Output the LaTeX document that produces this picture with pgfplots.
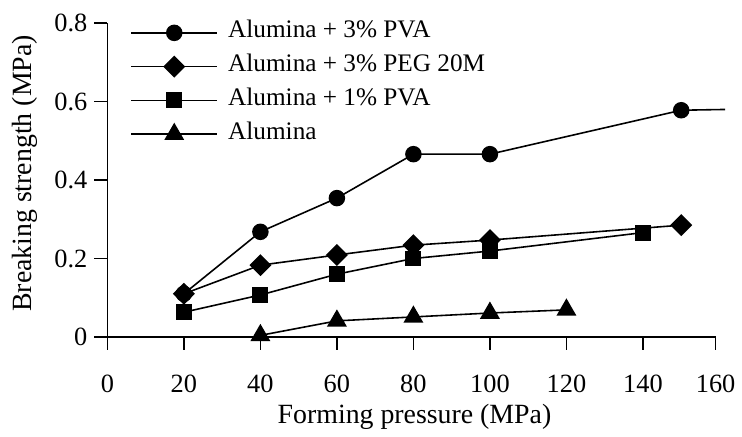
\documentclass[border=0pt]{standalone}
\usepackage{pgfplots}
\pgfplotsset{compat=1.18}
\usepackage{fontspec}
\setmainfont{Liberation Serif}
\newcommand{\tickfont}{\fontsize{13.25}{15}\selectfont}
\newcommand{\legfont}{\fontsize{12.7}{14}\selectfont}
\begin{document}
\begin{tikzpicture}
\begin{axis}[
  scale only axis,
  width=306pt, height=157.85pt,
  xmin=0, xmax=159, ymin=0, ymax=0.8,
  axis x line*=bottom, axis y line*=left,
  axis line style={line width=0.75pt},
  tick align=outside,
  major tick length=6.5pt,
  tick style={line width=0.75pt, black},
  xtick={0,20,40,60,80,100,120,140,159},
  xticklabels={0,20,40,60,80,100,120,140,160},
  ytick={0,0.2,0.4,0.6,0.8},
  yticklabels={0,0.2,0.4,0.6,0.8},
  minor tick num=0,
  /pgf/number format/assume math mode=true,
  every tick label/.append style={font=\tickfont},
  xticklabel style={font=\tickfont, yshift=-9pt},
  yticklabel style={font=\tickfont},
  clip=false,
  xlabel={Forming pressure (MPa)},
  ylabel={Breaking strength (MPa)},
  every axis x label/.style={at={(rel axis cs:0.505,-0.255)}, anchor=center, font=\fontsize{14}{16}\selectfont},
  every axis y label/.style={at={(rel axis cs:-0.1356,0.521)}, rotate=90, anchor=center, font=\fontsize{14}{16}\selectfont},
  legend cell align=left,
  legend style={at={(rel axis cs:0.0376,1.004)}, anchor=north west, draw=none, fill=none,
    inner sep=0pt, outer sep=0pt, row sep=6pt, column sep=5pt,
    font=\legfont,
    nodes={inner sep=0pt, text height=8pt, text depth=3pt, font=\legfont}},
  legend image code/.code={\draw[mark repeat=2,mark phase=2,#1] plot coordinates {(0pt,0pt) (21.75pt,0pt) (43.5pt,0pt)};},
  every axis plot/.append style={line width=0.8pt, black},
]
\addplot[mark=*, mark size=3.75pt] coordinates {
 (20,0.110) (40,0.268) (60,0.354) (80,0.466) (100,0.466) (150,0.578)};
\addlegendentry{Alumina + 3\% PVA}
\addplot[mark=square*, mark size=3.5pt, mark options={rotate=45}] coordinates {
 (20,0.110) (40,0.183) (60,0.209) (80,0.234) (100,0.247) (150,0.285)};
\addlegendentry{Alumina + 3\% PEG 20M}
\addplot[mark=square*, mark size=3.6pt] coordinates {
 (20,0.063) (40,0.107) (60,0.160) (80,0.200) (100,0.219) (140,0.266)};
\addlegendentry{Alumina + 1\% PVA}
\addplot[mark=triangle*, mark size=5pt] coordinates {
 (40,0.004) (60,0.041) (80,0.051) (100,0.061) (120,0.069)};
\addlegendentry{Alumina}
\addplot[no marks, forget plot] coordinates {(150,0.578) (161.5,0.580)};
\path (rel axis cs:-0.1765,-0.3168) rectangle (rel axis cs:1.0359,1.0738);
\end{axis}
\end{tikzpicture}
\end{document}
